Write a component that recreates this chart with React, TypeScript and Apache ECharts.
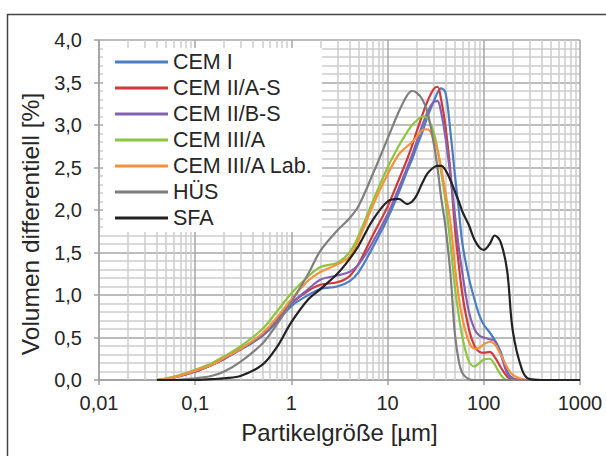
import React, { useEffect, useRef } from "react";
import * as echarts from "echarts";

// particle sizes [µm] (shared x positions of the sampled curve points)
const sizes = [0.04, 0.06, 0.1, 0.15, 0.2, 0.3, 0.5, 0.7, 1, 1.5, 2, 3, 4, 5, 7, 10, 13, 16, 18, 20, 23, 26, 30, 33, 36, 40, 45, 50, 55, 60, 70, 80, 90, 100, 115, 130, 150, 175, 200, 250, 300, 400, 1000];

const cemI = [0, 0.03, 0.1, 0.18, 0.25, 0.36, 0.52, 0.68, 0.87, 1.0, 1.07, 1.1, 1.16, 1.27, 1.56, 1.9, 2.2, 2.46, 2.6, 2.74, 2.92, 3.1, 3.27, 3.38, 3.43, 3.38, 2.92, 2.42, 2.0, 1.6, 1.2, 0.95, 0.76, 0.65, 0.56, 0.47, 0.33, 0.1, 0.02, 0, 0, 0, 0];
const cemIIAS = [0, 0.03, 0.1, 0.18, 0.25, 0.37, 0.53, 0.7, 0.9, 1.05, 1.12, 1.15, 1.22, 1.37, 1.7, 2.04, 2.35, 2.6, 2.76, 2.92, 3.12, 3.28, 3.42, 3.45, 3.3, 2.98, 2.45, 1.8, 1.35, 1.0, 0.6, 0.4, 0.33, 0.32, 0.33, 0.27, 0.15, 0.04, 0.01, 0, 0, 0, 0];
const cemIIBS = [0, 0.03, 0.1, 0.18, 0.25, 0.37, 0.53, 0.7, 0.9, 1.07, 1.18, 1.23, 1.27, 1.36, 1.62, 1.95, 2.25, 2.5, 2.65, 2.8, 3.0, 3.15, 3.27, 3.28, 3.15, 2.85, 2.4, 1.95, 1.55, 1.25, 0.8, 0.6, 0.52, 0.5, 0.48, 0.46, 0.3, 0.08, 0.01, 0, 0, 0, 0];
const cemIIIA = [0, 0.04, 0.12, 0.2, 0.28, 0.4, 0.6, 0.8, 1.02, 1.22, 1.33, 1.38, 1.5, 1.7, 2.1, 2.5, 2.75, 2.92, 3.0, 3.05, 3.1, 3.08, 2.92, 2.72, 2.45, 2.1, 1.6, 1.1, 0.75, 0.5, 0.22, 0.16, 0.2, 0.24, 0.25, 0.18, 0.06, 0, 0, 0, 0, 0, 0];
const cemIIIALab = [0, 0.03, 0.11, 0.18, 0.26, 0.37, 0.55, 0.73, 0.95, 1.17, 1.27, 1.36, 1.45, 1.65, 2.05, 2.42, 2.65, 2.75, 2.8, 2.86, 2.94, 2.95, 2.84, 2.7, 2.5, 2.2, 1.85, 1.35, 0.97, 0.72, 0.45, 0.37, 0.38, 0.42, 0.45, 0.42, 0.3, 0.15, 0.06, 0.01, 0, 0, 0];
const hues = [0, 0, 0.02, 0.05, 0.1, 0.22, 0.43, 0.65, 0.92, 1.25, 1.52, 1.76, 1.9, 2.05, 2.42, 2.84, 3.15, 3.35, 3.4, 3.38, 3.3, 3.15, 2.8, 2.5, 2.15, 1.8, 1.25, 0.55, 0.22, 0.08, 0.01, 0, 0, 0, 0, 0, 0, 0, 0, 0, 0, 0, 0];
const sfa = [0, 0, 0, 0.01, 0.02, 0.05, 0.18, 0.38, 0.68, 0.95, 1.07, 1.25, 1.42, 1.58, 1.88, 2.1, 2.13, 2.07, 2.1, 2.17, 2.32, 2.43, 2.5, 2.52, 2.52, 2.47, 2.35, 2.22, 2.1, 1.98, 1.82, 1.65, 1.56, 1.53, 1.6, 1.7, 1.62, 1.28, 0.58, 0.12, 0.01, 0, 0];

const seriesNames = ["CEM I", "CEM II/A-S", "CEM II/B-S", "CEM III/A", "CEM III/A Lab.", "HÜS", "SFA"];
const seriesValues = [cemI, cemIIAS, cemIIBS, cemIIIA, cemIIIALab, hues, sfa];
const seriesColors = ["#4a7dc3", "#d03a3a", "#8462b2", "#8dc540", "#f7913b", "#7f7f7f", "#222222"];

const xTicks = [0.01, 0.1, 1, 10, 100, 1000];
const xTickLabels = ["0,01", "0,1", "1", "10", "100", "1000"];
const minorFactors = [2, 3, 4, 5, 6, 7, 8, 9];

const FONT = "'Liberation Sans', Arial, sans-serif";
const TXT = "#262626";

export default function App() {
  const ref = useRef<HTMLDivElement>(null);
  useEffect(() => {
    document.body.style.margin = "0";
    const chart = echarts.init(ref.current!, null, { renderer: "svg" });
    const minorLines: any[] = [];
    xTicks.slice(0, -1).forEach((d) => minorFactors.forEach((f) => minorLines.push({ xAxis: +(d * f).toPrecision(3) })));
    const series: any[] = [
      {
        name: "_grid",
        type: "line",
        data: [],
        z: 1,
        silent: true,
        markLine: {
          z: 1,
          silent: true,
          symbol: ["none", "none"],
          label: { show: false },
          lineStyle: { color: "#cccccc", width: 1.5, type: "solid" },
          emphasis: { disabled: true },
          data: minorLines,
        },
      },
    ];
    seriesNames.forEach((n, i) => {
      series.push({
        name: n,
        type: "line",
        data: sizes.map((x, j) => [x, seriesValues[i][j]]),
        showSymbol: false,
        symbol: "none",
        smooth: 0.35,
        z: 3,
        lineStyle: { color: seriesColors[i], width: 2.2 },
        itemStyle: { color: seriesColors[i] },
      });
    });
    chart.setOption({
      animation: false,
      backgroundColor: "#ffffff",
      textStyle: { fontFamily: FONT },
      grid: { left: 99, right: 26, top: 40, bottom: 76, containLabel: false },
      graphic: [
        {
          type: "rect",
          silent: true,
          z: 0,
          shape: { x: 7.5, y: 14.5, width: 700, height: 600 },
          style: { fill: "none", stroke: "#444444", lineWidth: 1.5 },
        },
        {
          type: "rect",
          silent: true,
          z: 20,
          shape: { x: 103, y: 48, width: 219, height: 184 },
          style: { fill: "#ffffff", stroke: "none" },
        },
      ],
      legend: {
        data: seriesNames,
        orient: "vertical",
        left: 103,
        top: 47,
        z: 30,
        padding: [4, 8, 2, 12],
        itemGap: 4,
        itemWidth: 53,
        itemHeight: 3,
        icon: "rect",
        textStyle: { fontSize: 21.5, color: TXT, fontFamily: FONT, lineHeight: 22 },
      },
      xAxis: {
        type: "log",
        logBase: 10,
        min: 0.01,
        max: 1000,
        name: "Partikelgröße [µm]",
        nameLocation: "middle",
        nameGap: 40,
        nameTextStyle: { fontSize: 24, color: TXT, fontFamily: FONT },
        axisLine: { show: true, lineStyle: { color: "#a0a0a0", width: 1.5 } },
        axisTick: { show: true, length: 5, lineStyle: { color: "#a0a0a0", width: 1.5 } },
        axisLabel: {
          fontSize: 20,
          color: TXT,
          margin: 13,
          formatter: (v: number) => {
            const i = xTicks.findIndex((t) => Math.abs(Math.log10(t) - Math.log10(v)) < 1e-6);
            return i >= 0 ? xTickLabels[i] : "";
          },
        },
        splitLine: { show: true, lineStyle: { color: "#a6a6a6", width: 1.5 } },
      },
      yAxis: {
        type: "value",
        min: 0,
        max: 4,
        interval: 0.5,
        name: "Volumen differentiell [%]",
        nameLocation: "middle",
        nameGap: 55,
        nameTextStyle: { fontSize: 24.5, color: TXT, fontFamily: FONT, padding: [0, 28, 0, 0] },
        axisLine: { show: true, lineStyle: { color: "#a0a0a0", width: 1.5 } },
        axisTick: { show: true, length: 5, lineStyle: { color: "#a0a0a0", width: 1.5 } },
        minorTick: { show: false, splitNumber: 5 },
        minorSplitLine: { show: true, lineStyle: { color: "#cccccc", width: 1.5 } },
        axisLabel: {
          fontSize: 20,
          color: TXT,
          margin: 17,
          formatter: (v: number) => v.toFixed(1).replace(".", ","),
        },
        splitLine: { show: true, lineStyle: { color: "#a6a6a6", width: 1.5 } },
      },
      series,
    });
    return () => chart.dispose();
  }, []);
  return <div ref={ref} style={{ position: "fixed", left: 0, top: 0, width: 606, height: 456, background: "#fff" }} />;
}
